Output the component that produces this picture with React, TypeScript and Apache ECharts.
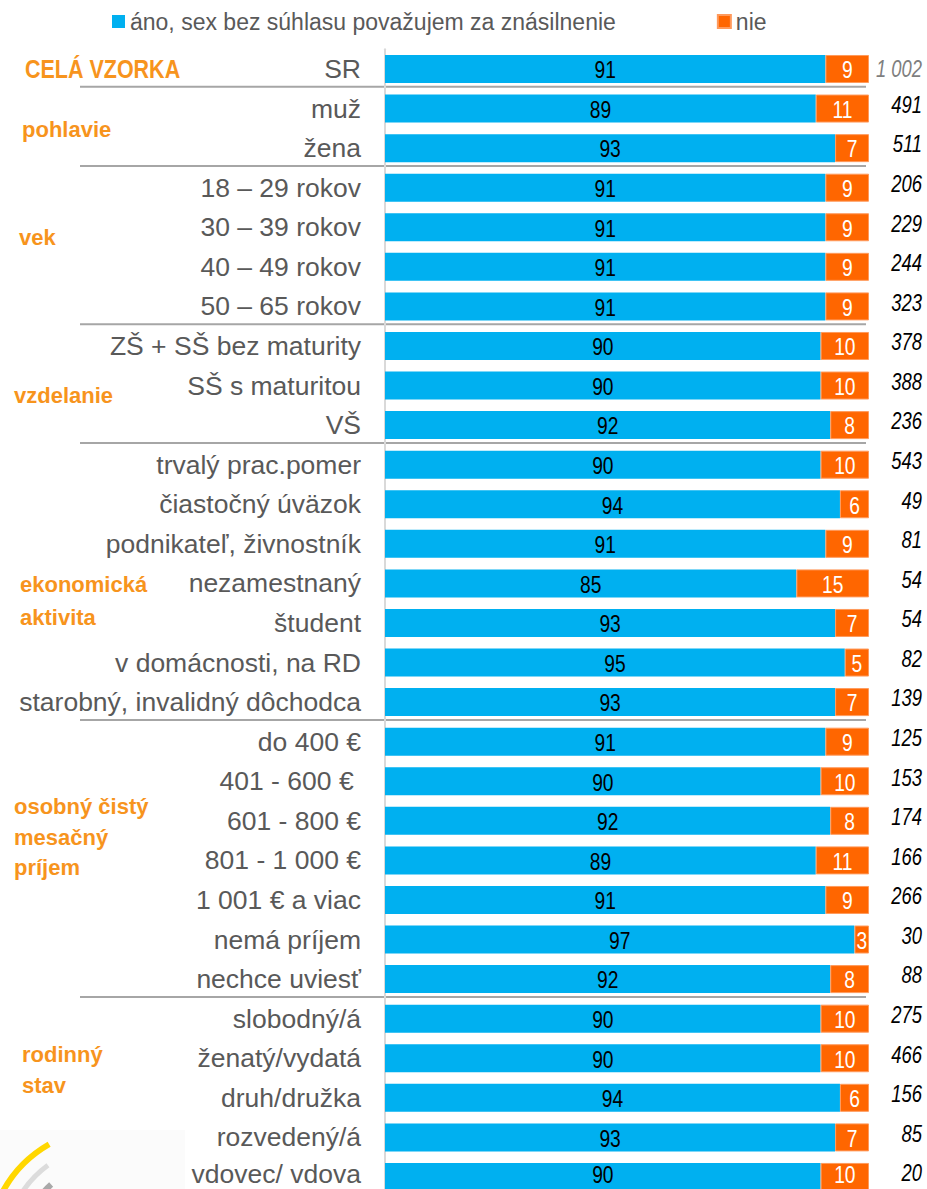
import React, { useEffect, useRef } from "react";
import * as echarts from "echarts";

const categories = [
  "SR",
  "muž", "žena",
  "18 – 29 rokov", "30 – 39 rokov", "40 – 49 rokov", "50 – 65 rokov",
  "ZŠ + SŠ bez maturity", "SŠ s maturitou", "VŠ",
  "trvalý prac.pomer", "čiastočný úväzok", "podnikateľ, živnostník", "nezamestnaný", "študent", "v domácnosti, na RD", "starobný, invalidný dôchodca",
  "do 400 €", "401 - 600 € ", "601 - 800 €", "801 - 1 000 €", "1 001 € a viac", "nemá príjem", "nechce uviesť",
  "slobodný/á", "ženatý/vydatá", "druh/družka", "rozvedený/á", "vdovec/ vdova",
];
const yesValues = [91, 89, 93, 91, 91, 91, 91, 90, 90, 92, 90, 94, 91, 85, 93, 95, 93, 91, 90, 92, 89, 91, 97, 92, 90, 90, 94, 93, 90];
const noValues = [9, 11, 7, 9, 9, 9, 9, 10, 10, 8, 10, 6, 9, 15, 7, 5, 7, 9, 10, 8, 11, 9, 3, 8, 10, 10, 6, 7, 10];
const sampleSizes = ["1 002", "491", "511", "206", "229", "244", "323", "378", "388", "236", "543", "49", "81", "54", "54", "82", "139", "125", "153", "174", "166", "266", "30", "88", "275", "466", "156", "85", "20"];
const seriesNames = ["áno, sex bez súhlasu považujem za znásilnenie", "nie"];
// index of last row in each group (separator drawn below it)
const groupEnds = [0, 2, 6, 9, 16, 23];
// group titles: text lines and the (fractional) row index of each line
const groupTitles = [
  { lines: ["CELÁ VZORKA"], rows: [0], x: 25, narrow: true },
  { lines: ["pohlavie"], rows: [1.52], x: 22, narrow: false },
  { lines: ["vek"], rows: [4.27], x: 19, narrow: false },
  { lines: ["vzdelanie"], rows: [8.24], x: 14, narrow: false },
  { lines: ["ekonomická", "aktivita"], rows: [13.04, 13.85], x: 20, narrow: false },
  { lines: ["osobný čistý", "mesačný", "príjem"], rows: [18.63, 19.41, 20.19], x: 14, narrow: false },
  { lines: ["rodinný", "stav"], rows: [24.9, 25.68], x: 22, narrow: false },
];

const BLUE = "#00b0f0";
const ORANGE = "#ff6600";
const GROUP_COLOR = "#f7941d";
const SANS = "'Liberation Sans', Arial, sans-serif";
const NARROW_SCALE = 0.8;

export default function App() {
  const ref = useRef<HTMLDivElement>(null);
  useEffect(() => {
    document.body.style.margin = "0";
    document.body.style.overflow = "hidden";
    const chart = echarts.init(ref.current!, null, { renderer: "svg" });
    const rowsN = categories.length;
    const lastIdx = rowsN - 1;
    const step = 39.57;
    const top = 49.2;
    const gridH = step * rowsN;
    chart.setOption({
      animation: false,
      textStyle: { fontFamily: SANS },
      legend: {
        left: 107,
        top: 5,
        itemWidth: 13,
        itemHeight: 13,
        itemGap: 101,
        icon: "rect",
        textStyle: { fontSize: 23, color: "#595959", fontFamily: SANS },
        data: seriesNames,
      },
      grid: { left: 385, right: 58, top: top, height: gridH, containLabel: false },
      xAxis: { type: "value", min: 0, max: 100, show: false },
      yAxis: {
        type: "category",
        inverse: true,
        data: categories,
        axisLine: { show: true, lineStyle: { color: "#d9d9d9", width: 2 } },
        axisTick: { show: false },
        axisLabel: {
          margin: 24,
          fontSize: 26.5,
          lineHeight: 22,
          color: "#595959",
          fontFamily: SANS,
          formatter: (v: string, i: number) => (i === lastIdx ? `{e|${v}}` : v),
          rich: { e: { fontSize: 26.5, lineHeight: 22, color: "#595959", fontFamily: SANS, padding: [0, 0, 5, 0] } },
        },
      },
      series: [
        {
          name: seriesNames[0],
          type: "bar",
          stack: "s",
          barWidth: 28,
          data: yesValues,
          itemStyle: { color: BLUE },
        },
        {
          name: seriesNames[1],
          type: "bar",
          stack: "s",
          barWidth: 28,
          data: noValues,
          itemStyle: { color: ORANGE, borderColor: "#ff9a5c", borderWidth: 1 },
        },
      ],
    });

    const y0 = chart.convertToPixel({ yAxisIndex: 0 }, categories[0]) as number;
    const y1 = chart.convertToPixel({ yAxisIndex: 0 }, categories[1]) as number;
    const st = y1 - y0;
    const rightEdge = chart.convertToPixel({ xAxisIndex: 0 }, 100) as number;
    const elements: any[] = [];
    groupEnds.forEach((r) => {
      const y = y0 + st * (r + 0.5) - 2;
      elements.push({
        type: "line",
        z: -1,
        shape: { x1: 80, y1: y, x2: 866, y2: y },
        style: { stroke: "#a6a6a6", lineWidth: 2 },
      });
    });
    // value labels inside bars (narrow look)
    categories.forEach((c, i) => {
      const pYes = chart.convertToPixel({ xAxisIndex: 0, yAxisIndex: 0 }, [yesValues[i] / 2, c]) as number[];
      const pNo = chart.convertToPixel({ xAxisIndex: 0, yAxisIndex: 0 }, [yesValues[i] + noValues[i] / 2, c]) as number[];
      const dy = i === lastIdx ? -2 : 1;
      elements.push({
        type: "text", x: pYes[0], y: pYes[1] + dy, scaleX: NARROW_SCALE, z: 10,
        style: { text: String(yesValues[i]), fill: "#000", font: `24px ${SANS}`, textAlign: "center", textVerticalAlign: "middle", lineHeight: 20 },
      });
      elements.push({
        type: "text", x: pNo[0], y: pNo[1] + dy, scaleX: NARROW_SCALE, z: 10,
        style: { text: String(noValues[i]), fill: "#fff", font: `24px ${SANS}`, textAlign: "center", textVerticalAlign: "middle", lineHeight: 20 },
      });
      // sample size column
      elements.push({
        type: "text", x: rightEdge + 53, y: pYes[1] - (i === 0 ? 0 : 4), scaleX: NARROW_SCALE, z: 10,
        style: {
          text: sampleSizes[i],
          fill: i === 0 ? "#7f7f7f" : "#000",
          font: `italic 23px ${SANS}`,
          textAlign: "right",
          textVerticalAlign: "middle",
        },
      });
    });
    groupTitles.forEach((g) => {
      g.lines.forEach((t, k) => {
        elements.push({
          type: "text",
          x: g.x,
          y: y0 + st * g.rows[k],
          scaleX: g.narrow ? 0.86 : 1,
          style: {
            text: t,
            fill: GROUP_COLOR,
            font: g.narrow ? `bold 25px ${SANS}` : `bold 22px ${SANS}`,
            textAlign: "left",
            textVerticalAlign: "middle",
          },
        });
      });
    });
    // logo fragment bottom-left
    elements.push({ type: "rect", z: -2, shape: { x: 0, y: 1130, width: 185, height: 70 }, style: { fill: "#fbfbfb" } });
    elements.push({ type: "arc", shape: { cx: 110, cy: 1250, r: 122, startAngle: 3.5, endAngle: 4.19 }, style: { stroke: "#ffd700", lineWidth: 6, fill: "none" } });
    elements.push({ type: "arc", shape: { cx: 110, cy: 1250, r: 105, startAngle: 3.5, endAngle: 4.08 }, style: { stroke: "#dcdcdc", lineWidth: 5, fill: "none" } });
    elements.push({ type: "arc", shape: { cx: 110, cy: 1250, r: 88, startAngle: 3.7, endAngle: 3.98 }, style: { stroke: "#a9a9a9", lineWidth: 6, fill: "none" } });
    chart.setOption({ graphic: { elements } });

    return () => chart.dispose();
  }, []);
  return (
    <div style={{ width: 927, height: 1189, overflow: "hidden" }}>
      <div ref={ref} style={{ width: 927, height: 1205 }} />
    </div>
  );
}
